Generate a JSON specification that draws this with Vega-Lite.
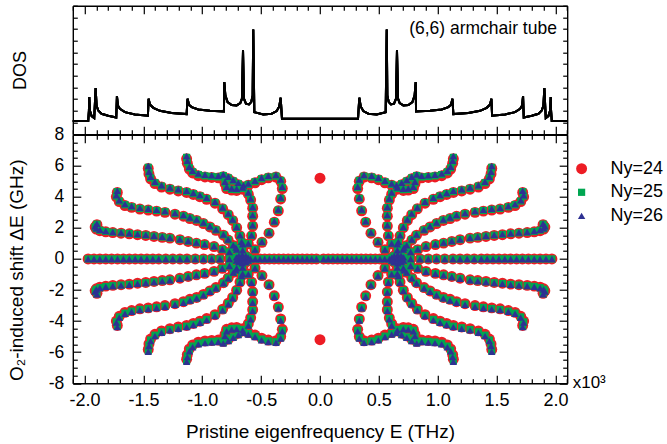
{"$schema":"https://vega.github.io/schema/vega-lite/v6.json","autosize":{"type":"none"},"padding":{"left":72.8,"top":5.7,"right":594.2,"bottom":438.3},"spacing":0,"bounds":"flush","config":{"view":{"stroke":null},"font":"Liberation Sans","axis":{"grid":false,"domainColor":"#000","domainWidth":1.4,"tickColor":"#000","tickWidth":1.2,"labelColor":"#000","titleColor":"#000","labelFontSize":18,"titleFontSize":18,"titleFontWeight":"normal","labelFont":"Liberation Sans","titleFont":"Liberation Sans"}},
"datasets":{"dos":[{"x":-2.1,"y":1.12},{"x":-1.969,"y":1.12},{"x":-1.963,"y":2.03},{"x":-1.96,"y":3.18},{"x":-1.955,"y":2.03},{"x":-1.94,"y":1.55},{"x":-1.918,"y":1.38},{"x":-1.906,"y":3.95},{"x":-1.898,"y":2.46},{"x":-1.884,"y":2.03},{"x":-1.856,"y":1.75},{"x":-1.799,"y":1.58},{"x":-1.731,"y":1.43},{"x":-1.725,"y":3.27},{"x":-1.717,"y":2.46},{"x":-1.7,"y":2.18},{"x":-1.657,"y":1.89},{"x":-1.572,"y":1.69},{"x":-1.462,"y":1.58},{"x":-1.456,"y":3.04},{"x":-1.445,"y":2.55},{"x":-1.416,"y":2.26},{"x":-1.36,"y":2.0},{"x":-1.26,"y":1.81},{"x":-1.133,"y":1.72},{"x":-1.125,"y":3.04},{"x":-1.113,"y":2.52},{"x":-1.09,"y":2.32},{"x":-1.034,"y":2.12},{"x":-0.935,"y":2.0},{"x":-0.816,"y":1.95},{"x":-0.813,"y":4.47},{"x":-0.804,"y":3.32},{"x":-0.785,"y":2.75},{"x":-0.751,"y":2.49},{"x":-0.708,"y":2.46},{"x":-0.677,"y":2.66},{"x":-0.663,"y":3.04},{"x":-0.654,"y":7.19},{"x":-0.646,"y":3.04},{"x":-0.629,"y":2.61},{"x":-0.603,"y":2.55},{"x":-0.584,"y":2.75},{"x":-0.572,"y":3.32},{"x":-0.567,"y":8.97},{"x":-0.558,"y":1.89},{"x":-0.482,"y":1.69},{"x":-0.411,"y":1.75},{"x":-0.368,"y":1.98},{"x":-0.346,"y":2.38},{"x":-0.334,"y":3.12},{"x":-0.323,"y":1.32},{"x":0.323,"y":1.32},{"x":0.334,"y":3.12},{"x":0.346,"y":2.38},{"x":0.368,"y":1.98},{"x":0.411,"y":1.75},{"x":0.482,"y":1.69},{"x":0.558,"y":1.89},{"x":0.567,"y":8.97},{"x":0.572,"y":3.32},{"x":0.584,"y":2.75},{"x":0.603,"y":2.55},{"x":0.629,"y":2.61},{"x":0.646,"y":3.04},{"x":0.654,"y":7.19},{"x":0.663,"y":3.04},{"x":0.677,"y":2.66},{"x":0.708,"y":2.46},{"x":0.751,"y":2.49},{"x":0.785,"y":2.75},{"x":0.804,"y":3.32},{"x":0.813,"y":4.47},{"x":0.816,"y":1.95},{"x":0.935,"y":2.0},{"x":1.034,"y":2.12},{"x":1.09,"y":2.32},{"x":1.113,"y":2.52},{"x":1.125,"y":3.04},{"x":1.133,"y":1.72},{"x":1.26,"y":1.81},{"x":1.36,"y":2.0},{"x":1.416,"y":2.26},{"x":1.445,"y":2.55},{"x":1.456,"y":3.04},{"x":1.462,"y":1.58},{"x":1.572,"y":1.69},{"x":1.657,"y":1.89},{"x":1.7,"y":2.18},{"x":1.717,"y":2.46},{"x":1.725,"y":3.27},{"x":1.731,"y":1.43},{"x":1.799,"y":1.58},{"x":1.856,"y":1.75},{"x":1.884,"y":2.03},{"x":1.898,"y":2.46},{"x":1.906,"y":3.95},{"x":1.918,"y":1.38},{"x":1.94,"y":1.55},{"x":1.955,"y":2.03},{"x":1.96,"y":3.18},{"x":1.963,"y":2.03},{"x":1.969,"y":1.12},{"x":2.1,"y":1.12}],
"pts":[
{"x":-1.97,"a":0,"b":0,"c":0},{"x":-1.92,"a":0,"b":0,"c":0},{"x":-1.87,"a":0,"b":0,"c":0},{"x":-1.82,"a":0,"b":0,"c":0},{"x":-1.77,"a":0,"b":0,"c":0},{"x":-1.72,"a":0,"b":0,"c":0},{"x":-1.67,"a":0,"b":0,"c":0},{"x":-1.62,"a":0,"b":0,"c":0},{"x":-1.57,"a":0,"b":0,"c":0},{"x":-1.52,"a":0,"b":0,"c":0},{"x":-1.47,"a":0,"b":0,"c":0},{"x":-1.42,"a":0,"b":0,"c":0},{"x":-1.37,"a":0,"b":0,"c":0},{"x":-1.31,"a":0,"b":0,"c":0},{"x":-1.25,"a":0,"b":0,"c":0},{"x":-1.19,"a":0,"b":0,"c":0},{"x":-1.13,"a":0,"b":0,"c":0},{"x":-1.06,"a":0,"b":0,"c":0},{"x":-0.99,"a":0,"b":0,"c":0},{"x":-0.92,"a":0,"b":0,"c":0},{"x":-0.85,"a":0,"b":0,"c":0},{"x":-0.77,"a":0,"b":0,"c":0},{"x":-0.69,"a":0,"b":0,"c":0},{"x":-0.66,"a":0,"b":0,"c":0},{"x":-0.63,"a":0,"b":0,"c":0},{"x":-0.59,"a":0,"b":0,"c":0},{"x":-0.55,"a":0,"b":0,"c":0},{"x":-0.51,"a":0,"b":0,"c":0},{"x":-0.47,"a":0,"b":0,"c":0},{"x":-0.43,"a":0,"b":0,"c":0},{"x":-0.39,"a":0,"b":0,"c":0},{"x":-0.35,"a":0,"b":0,"c":0},{"x":-0.31,"a":0,"b":0,"c":0},{"x":-0.27,"a":0,"b":0,"c":0},{"x":-0.23,"a":0,"b":0,"c":0},{"x":-0.19,"a":0,"b":0,"c":0},{"x":-0.15,"a":0,"b":0,"c":0},{"x":-0.11,"a":0,"b":0,"c":0},{"x":-0.07,"a":0,"b":0,"c":0},{"x":-0.03,"a":0,"b":0,"c":0},
{"x":0.03,"a":0,"b":0,"c":0},{"x":0.07,"a":0,"b":0,"c":0},{"x":0.11,"a":0,"b":0,"c":0},{"x":0.15,"a":0,"b":0,"c":0},{"x":0.19,"a":0,"b":0,"c":0},{"x":0.23,"a":0,"b":0,"c":0},{"x":0.27,"a":0,"b":0,"c":0},{"x":0.31,"a":0,"b":0,"c":0},{"x":0.35,"a":0,"b":0,"c":0},{"x":0.39,"a":0,"b":0,"c":0},{"x":0.43,"a":0,"b":0,"c":0},{"x":0.47,"a":0,"b":0,"c":0},{"x":0.51,"a":0,"b":0,"c":0},{"x":0.55,"a":0,"b":0,"c":0},{"x":0.59,"a":0,"b":0,"c":0},{"x":0.63,"a":0,"b":0,"c":0},{"x":0.66,"a":0,"b":0,"c":0},{"x":0.69,"a":0,"b":0,"c":0},{"x":0.77,"a":0,"b":0,"c":0},{"x":0.85,"a":0,"b":0,"c":0},{"x":0.92,"a":0,"b":0,"c":0},{"x":0.99,"a":0,"b":0,"c":0},{"x":1.06,"a":0,"b":0,"c":0},{"x":1.13,"a":0,"b":0,"c":0},{"x":1.19,"a":0,"b":0,"c":0},{"x":1.25,"a":0,"b":0,"c":0},{"x":1.31,"a":0,"b":0,"c":0},{"x":1.37,"a":0,"b":0,"c":0},{"x":1.42,"a":0,"b":0,"c":0},{"x":1.47,"a":0,"b":0,"c":0},{"x":1.52,"a":0,"b":0,"c":0},{"x":1.57,"a":0,"b":0,"c":0},{"x":1.62,"a":0,"b":0,"c":0},{"x":1.67,"a":0,"b":0,"c":0},{"x":1.72,"a":0,"b":0,"c":0},{"x":1.77,"a":0,"b":0,"c":0},{"x":1.82,"a":0,"b":0,"c":0},{"x":1.87,"a":0,"b":0,"c":0},{"x":1.92,"a":0,"b":0,"c":0},{"x":1.97,"a":0,"b":0,"c":0},
{"x":-1.895,"a":2.21,"b":2.24,"c":2.27},{"x":-1.91,"a":2.05,"b":2.07,"c":2.1},{"x":-1.9,"a":1.92,"b":1.95,"c":1.97},{"x":-1.87,"a":1.82,"b":1.85,"c":1.87},{"x":-1.82,"a":1.75,"b":1.77,"c":1.79},{"x":-1.76,"a":1.7,"b":1.72,"c":1.74},{"x":-1.69,"a":1.66,"b":1.68,"c":1.7},{"x":-1.62,"a":1.62,"b":1.64,"c":1.66},{"x":-1.55,"a":1.56,"b":1.58,"c":1.6},{"x":-1.48,"a":1.51,"b":1.53,"c":1.55},{"x":-1.41,"a":1.45,"b":1.47,"c":1.49},{"x":-1.34,"a":1.39,"b":1.41,"c":1.43},{"x":-1.275,"a":1.34,"b":1.35,"c":1.37},{"x":-1.19,"a":1.24,"b":1.25,"c":1.27},{"x":-1.12,"a":1.13,"b":1.14,"c":1.16},{"x":-1.05,"a":1.02,"b":1.04,"c":1.05},{"x":-0.98,"a":0.93,"b":0.94,"c":0.95},{"x":-0.9,"a":0.8,"b":0.81,"c":0.82},{"x":-0.83,"a":0.6,"b":0.61,"c":0.62},{"x":-0.77,"a":0.44,"b":0.45,"c":0.45},
{"x":-1.722,"a":4.28,"b":4.33,"c":4.39},{"x":-1.73,"a":4.0,"b":4.05,"c":4.1},{"x":-1.705,"a":3.69,"b":3.73,"c":3.78},{"x":-1.657,"a":3.44,"b":3.49,"c":3.53},{"x":-1.6,"a":3.32,"b":3.36,"c":3.4},{"x":-1.53,"a":3.21,"b":3.25,"c":3.29},{"x":-1.459,"a":3.15,"b":3.19,"c":3.23},{"x":-1.388,"a":3.08,"b":3.12,"c":3.16},{"x":-1.317,"a":3.0,"b":3.04,"c":3.08},{"x":-1.232,"a":2.88,"b":2.91,"c":2.95},{"x":-1.16,"a":2.75,"b":2.78,"c":2.82},{"x":-1.105,"a":2.6,"b":2.64,"c":2.67},{"x":-1.048,"a":2.48,"b":2.51,"c":2.54},{"x":-0.99,"a":2.28,"b":2.31,"c":2.34},{"x":-0.935,"a":2.06,"b":2.08,"c":2.11},{"x":-0.884,"a":1.84,"b":1.87,"c":1.89},{"x":-0.82,"a":1.53,"b":1.55,"c":1.57},{"x":-0.78,"a":1.22,"b":1.23,"c":1.25},{"x":-0.737,"a":0.86,"b":0.87,"c":0.88},{"x":-0.708,"a":0.59,"b":0.6,"c":0.6},
{"x":-1.459,"a":5.83,"b":5.9,"c":5.98},{"x":-1.453,"a":5.47,"b":5.54,"c":5.61},{"x":-1.439,"a":5.16,"b":5.22,"c":5.29},{"x":-1.402,"a":4.85,"b":4.91,"c":4.97},{"x":-1.346,"a":4.63,"b":4.69,"c":4.75},{"x":-1.275,"a":4.49,"b":4.54,"c":4.6},{"x":-1.204,"a":4.38,"b":4.43,"c":4.49},{"x":-1.133,"a":4.28,"b":4.33,"c":4.39},{"x":-1.076,"a":4.15,"b":4.2,"c":4.25},{"x":-1.02,"a":4.01,"b":4.06,"c":4.11},{"x":-0.963,"a":3.84,"b":3.89,"c":3.94},{"x":-0.892,"a":3.59,"b":3.63,"c":3.68},{"x":-0.827,"a":3.23,"b":3.27,"c":3.31},{"x":-0.779,"a":2.85,"b":2.88,"c":2.92},{"x":-0.742,"a":2.48,"b":2.51,"c":2.54},{"x":-0.708,"a":2.01,"b":2.03,"c":2.06},{"x":-0.68,"a":1.49,"b":1.51,"c":1.53},{"x":-0.666,"a":1.07,"b":1.09,"c":1.1},{"x":-0.657,"a":0.55,"b":0.55,"c":0.56},
{"x":-1.133,"a":6.45,"b":6.54,"c":6.62},{"x":-1.127,"a":6.16,"b":6.24,"c":6.32},{"x":-1.11,"a":5.79,"b":5.87,"c":5.94},{"x":-1.082,"a":5.54,"b":5.61,"c":5.68},{"x":-1.034,"a":5.36,"b":5.43,"c":5.5},{"x":-0.977,"a":5.28,"b":5.35,"c":5.42},{"x":-0.92,"a":5.25,"b":5.31,"c":5.38},{"x":-0.864,"a":5.22,"b":5.28,"c":5.35},{"x":-0.822,"a":5.3,"b":5.37,"c":5.44},{"x":-0.779,"a":5.16,"b":5.22,"c":5.29},{"x":-0.737,"a":4.95,"b":5.02,"c":5.08},{"x":-0.694,"a":4.78,"b":4.84,"c":4.9},{"x":-0.65,"a":4.63,"b":4.69,"c":4.75},{"x":-0.807,"a":4.85,"b":4.91,"c":4.97},{"x":-0.793,"a":4.53,"b":4.59,"c":4.65},{"x":-0.75,"a":4.43,"b":4.48,"c":4.54},{"x":-0.708,"a":4.41,"b":4.46,"c":4.52},{"x":-0.657,"a":4.49,"b":4.54,"c":4.6},
{"x":-0.609,"a":4.74,"b":4.8,"c":4.86},{"x":-0.552,"a":4.9,"b":4.97,"c":5.03},{"x":-0.496,"a":5.1,"b":5.16,"c":5.23},{"x":-0.439,"a":5.22,"b":5.28,"c":5.35},{"x":-0.374,"a":5.27,"b":5.33,"c":5.4},{"x":-0.334,"a":5.0,"b":5.06,"c":5.12},{"x":-0.32,"a":4.53,"b":4.59,"c":4.65},{"x":-0.334,"a":3.86,"b":3.91,"c":3.96},{"x":-0.354,"a":3.1,"b":3.14,"c":3.18},{"x":-0.388,"a":2.37,"b":2.4,"c":2.43},{"x":-0.433,"a":1.66,"b":1.68,"c":1.7},{"x":-0.493,"a":1.07,"b":1.09,"c":1.1},{"x":-0.552,"a":0.59,"b":0.6,"c":0.6},
{"x":-0.609,"a":4.17,"b":4.23,"c":4.28},{"x":-0.589,"a":3.79,"b":3.84,"c":3.89},{"x":-0.572,"a":3.27,"b":3.31,"c":3.35},{"x":-0.572,"a":2.75,"b":2.78,"c":2.82},{"x":-0.572,"a":2.12,"b":2.14,"c":2.17},{"x":-0.581,"a":1.49,"b":1.51,"c":1.53},{"x":-0.609,"a":0.97,"b":0.98,"c":0.99},{"x":-0.657,"a":0.93,"b":0.94,"c":0.95},{"x":-0.714,"a":0.71,"b":0.72,"c":0.73},{"x":-0.66,"a":0.28,"b":0.28,"c":0.28},{"x":-0.69,"a":0.2,"b":0.2,"c":0.2},{"x":-0.63,"a":0.2,"b":0.2,"c":0.2},{"x":-0.71,"a":0.1,"b":0.1,"c":0.1},{"x":-0.61,"a":0.1,"b":0.1,"c":0.1},
{"x":1.895,"a":2.21,"b":2.24,"c":2.27},{"x":1.91,"a":2.05,"b":2.07,"c":2.1},{"x":1.9,"a":1.92,"b":1.95,"c":1.97},{"x":1.87,"a":1.82,"b":1.85,"c":1.87},{"x":1.82,"a":1.75,"b":1.77,"c":1.79},{"x":1.76,"a":1.7,"b":1.72,"c":1.74},{"x":1.69,"a":1.66,"b":1.68,"c":1.7},{"x":1.62,"a":1.62,"b":1.64,"c":1.66},{"x":1.55,"a":1.56,"b":1.58,"c":1.6},{"x":1.48,"a":1.51,"b":1.53,"c":1.55},{"x":1.41,"a":1.45,"b":1.47,"c":1.49},{"x":1.34,"a":1.39,"b":1.41,"c":1.43},{"x":1.275,"a":1.34,"b":1.35,"c":1.37},{"x":1.19,"a":1.24,"b":1.25,"c":1.27},{"x":1.12,"a":1.13,"b":1.14,"c":1.16},{"x":1.05,"a":1.02,"b":1.04,"c":1.05},{"x":0.98,"a":0.93,"b":0.94,"c":0.95},{"x":0.9,"a":0.8,"b":0.81,"c":0.82},{"x":0.83,"a":0.6,"b":0.61,"c":0.62},{"x":0.77,"a":0.44,"b":0.45,"c":0.45},
{"x":1.722,"a":4.28,"b":4.33,"c":4.39},{"x":1.73,"a":4.0,"b":4.05,"c":4.1},{"x":1.705,"a":3.69,"b":3.73,"c":3.78},{"x":1.657,"a":3.44,"b":3.49,"c":3.53},{"x":1.6,"a":3.32,"b":3.36,"c":3.4},{"x":1.53,"a":3.21,"b":3.25,"c":3.29},{"x":1.459,"a":3.15,"b":3.19,"c":3.23},{"x":1.388,"a":3.08,"b":3.12,"c":3.16},{"x":1.317,"a":3.0,"b":3.04,"c":3.08},{"x":1.232,"a":2.88,"b":2.91,"c":2.95},{"x":1.16,"a":2.75,"b":2.78,"c":2.82},{"x":1.105,"a":2.6,"b":2.64,"c":2.67},{"x":1.048,"a":2.48,"b":2.51,"c":2.54},{"x":0.99,"a":2.28,"b":2.31,"c":2.34},{"x":0.935,"a":2.06,"b":2.08,"c":2.11},{"x":0.884,"a":1.84,"b":1.87,"c":1.89},{"x":0.82,"a":1.53,"b":1.55,"c":1.57},{"x":0.78,"a":1.22,"b":1.23,"c":1.25},{"x":0.737,"a":0.86,"b":0.87,"c":0.88},{"x":0.708,"a":0.59,"b":0.6,"c":0.6},
{"x":1.459,"a":5.83,"b":5.9,"c":5.98},{"x":1.453,"a":5.47,"b":5.54,"c":5.61},{"x":1.439,"a":5.16,"b":5.22,"c":5.29},{"x":1.402,"a":4.85,"b":4.91,"c":4.97},{"x":1.346,"a":4.63,"b":4.69,"c":4.75},{"x":1.275,"a":4.49,"b":4.54,"c":4.6},{"x":1.204,"a":4.38,"b":4.43,"c":4.49},{"x":1.133,"a":4.28,"b":4.33,"c":4.39},{"x":1.076,"a":4.15,"b":4.2,"c":4.25},{"x":1.02,"a":4.01,"b":4.06,"c":4.11},{"x":0.963,"a":3.84,"b":3.89,"c":3.94},{"x":0.892,"a":3.59,"b":3.63,"c":3.68},{"x":0.827,"a":3.23,"b":3.27,"c":3.31},{"x":0.779,"a":2.85,"b":2.88,"c":2.92},{"x":0.742,"a":2.48,"b":2.51,"c":2.54},{"x":0.708,"a":2.01,"b":2.03,"c":2.06},{"x":0.68,"a":1.49,"b":1.51,"c":1.53},{"x":0.666,"a":1.07,"b":1.09,"c":1.1},{"x":0.657,"a":0.55,"b":0.55,"c":0.56},
{"x":1.133,"a":6.45,"b":6.54,"c":6.62},{"x":1.127,"a":6.16,"b":6.24,"c":6.32},{"x":1.11,"a":5.79,"b":5.87,"c":5.94},{"x":1.082,"a":5.54,"b":5.61,"c":5.68},{"x":1.034,"a":5.36,"b":5.43,"c":5.5},{"x":0.977,"a":5.28,"b":5.35,"c":5.42},{"x":0.92,"a":5.25,"b":5.31,"c":5.38},{"x":0.864,"a":5.22,"b":5.28,"c":5.35},{"x":0.822,"a":5.3,"b":5.37,"c":5.44},{"x":0.779,"a":5.16,"b":5.22,"c":5.29},{"x":0.737,"a":4.95,"b":5.02,"c":5.08},{"x":0.694,"a":4.78,"b":4.84,"c":4.9},{"x":0.65,"a":4.63,"b":4.69,"c":4.75},{"x":0.807,"a":4.85,"b":4.91,"c":4.97},{"x":0.793,"a":4.53,"b":4.59,"c":4.65},{"x":0.75,"a":4.43,"b":4.48,"c":4.54},{"x":0.708,"a":4.41,"b":4.46,"c":4.52},{"x":0.657,"a":4.49,"b":4.54,"c":4.6},
{"x":0.609,"a":4.74,"b":4.8,"c":4.86},{"x":0.552,"a":4.9,"b":4.97,"c":5.03},{"x":0.496,"a":5.1,"b":5.16,"c":5.23},{"x":0.439,"a":5.22,"b":5.28,"c":5.35},{"x":0.374,"a":5.27,"b":5.33,"c":5.4},{"x":0.334,"a":5.0,"b":5.06,"c":5.12},{"x":0.32,"a":4.53,"b":4.59,"c":4.65},{"x":0.334,"a":3.86,"b":3.91,"c":3.96},{"x":0.354,"a":3.1,"b":3.14,"c":3.18},{"x":0.388,"a":2.37,"b":2.4,"c":2.43},{"x":0.433,"a":1.66,"b":1.68,"c":1.7},{"x":0.493,"a":1.07,"b":1.09,"c":1.1},{"x":0.552,"a":0.59,"b":0.6,"c":0.6},
{"x":0.609,"a":4.17,"b":4.23,"c":4.28},{"x":0.589,"a":3.79,"b":3.84,"c":3.89},{"x":0.572,"a":3.27,"b":3.31,"c":3.35},{"x":0.572,"a":2.75,"b":2.78,"c":2.82},{"x":0.572,"a":2.12,"b":2.14,"c":2.17},{"x":0.581,"a":1.49,"b":1.51,"c":1.53},{"x":0.609,"a":0.97,"b":0.98,"c":0.99},{"x":0.657,"a":0.93,"b":0.94,"c":0.95},{"x":0.714,"a":0.71,"b":0.72,"c":0.73},{"x":0.66,"a":0.28,"b":0.28,"c":0.28},{"x":0.69,"a":0.2,"b":0.2,"c":0.2},{"x":0.63,"a":0.2,"b":0.2,"c":0.2},{"x":0.71,"a":0.1,"b":0.1,"c":0.1},{"x":0.61,"a":0.1,"b":0.1,"c":0.1},
{"x":-1.895,"a":-2.21,"b":-2.24,"c":-2.27},{"x":-1.91,"a":-2.05,"b":-2.07,"c":-2.1},{"x":-1.9,"a":-1.92,"b":-1.95,"c":-1.97},{"x":-1.87,"a":-1.82,"b":-1.85,"c":-1.87},{"x":-1.82,"a":-1.75,"b":-1.77,"c":-1.79},{"x":-1.76,"a":-1.7,"b":-1.72,"c":-1.74},{"x":-1.69,"a":-1.66,"b":-1.68,"c":-1.7},{"x":-1.62,"a":-1.62,"b":-1.64,"c":-1.66},{"x":-1.55,"a":-1.56,"b":-1.58,"c":-1.6},{"x":-1.48,"a":-1.51,"b":-1.53,"c":-1.55},{"x":-1.41,"a":-1.45,"b":-1.47,"c":-1.49},{"x":-1.34,"a":-1.39,"b":-1.41,"c":-1.43},{"x":-1.275,"a":-1.34,"b":-1.35,"c":-1.37},{"x":-1.19,"a":-1.24,"b":-1.25,"c":-1.27},{"x":-1.12,"a":-1.13,"b":-1.14,"c":-1.16},{"x":-1.05,"a":-1.02,"b":-1.04,"c":-1.05},{"x":-0.98,"a":-0.93,"b":-0.94,"c":-0.95},{"x":-0.9,"a":-0.8,"b":-0.81,"c":-0.82},{"x":-0.83,"a":-0.6,"b":-0.61,"c":-0.62},{"x":-0.77,"a":-0.44,"b":-0.45,"c":-0.45},
{"x":-1.722,"a":-4.28,"b":-4.33,"c":-4.39},{"x":-1.73,"a":-4.0,"b":-4.05,"c":-4.1},{"x":-1.705,"a":-3.69,"b":-3.73,"c":-3.78},{"x":-1.657,"a":-3.44,"b":-3.49,"c":-3.53},{"x":-1.6,"a":-3.32,"b":-3.36,"c":-3.4},{"x":-1.53,"a":-3.21,"b":-3.25,"c":-3.29},{"x":-1.459,"a":-3.15,"b":-3.19,"c":-3.23},{"x":-1.388,"a":-3.08,"b":-3.12,"c":-3.16},{"x":-1.317,"a":-3.0,"b":-3.04,"c":-3.08},{"x":-1.232,"a":-2.88,"b":-2.91,"c":-2.95},{"x":-1.16,"a":-2.75,"b":-2.78,"c":-2.82},{"x":-1.105,"a":-2.6,"b":-2.64,"c":-2.67},{"x":-1.048,"a":-2.48,"b":-2.51,"c":-2.54},{"x":-0.99,"a":-2.28,"b":-2.31,"c":-2.34},{"x":-0.935,"a":-2.06,"b":-2.08,"c":-2.11},{"x":-0.884,"a":-1.84,"b":-1.87,"c":-1.89},{"x":-0.82,"a":-1.53,"b":-1.55,"c":-1.57},{"x":-0.78,"a":-1.22,"b":-1.23,"c":-1.25},{"x":-0.737,"a":-0.86,"b":-0.87,"c":-0.88},{"x":-0.708,"a":-0.59,"b":-0.6,"c":-0.6},
{"x":-1.459,"a":-5.83,"b":-5.9,"c":-5.98},{"x":-1.453,"a":-5.47,"b":-5.54,"c":-5.61},{"x":-1.439,"a":-5.16,"b":-5.22,"c":-5.29},{"x":-1.402,"a":-4.85,"b":-4.91,"c":-4.97},{"x":-1.346,"a":-4.63,"b":-4.69,"c":-4.75},{"x":-1.275,"a":-4.49,"b":-4.54,"c":-4.6},{"x":-1.204,"a":-4.38,"b":-4.43,"c":-4.49},{"x":-1.133,"a":-4.28,"b":-4.33,"c":-4.39},{"x":-1.076,"a":-4.15,"b":-4.2,"c":-4.25},{"x":-1.02,"a":-4.01,"b":-4.06,"c":-4.11},{"x":-0.963,"a":-3.84,"b":-3.89,"c":-3.94},{"x":-0.892,"a":-3.59,"b":-3.63,"c":-3.68},{"x":-0.827,"a":-3.23,"b":-3.27,"c":-3.31},{"x":-0.779,"a":-2.85,"b":-2.88,"c":-2.92},{"x":-0.742,"a":-2.48,"b":-2.51,"c":-2.54},{"x":-0.708,"a":-2.01,"b":-2.03,"c":-2.06},{"x":-0.68,"a":-1.49,"b":-1.51,"c":-1.53},{"x":-0.666,"a":-1.07,"b":-1.09,"c":-1.1},{"x":-0.657,"a":-0.55,"b":-0.55,"c":-0.56},
{"x":-1.133,"a":-6.45,"b":-6.54,"c":-6.62},{"x":-1.127,"a":-6.16,"b":-6.24,"c":-6.32},{"x":-1.11,"a":-5.79,"b":-5.87,"c":-5.94},{"x":-1.082,"a":-5.54,"b":-5.61,"c":-5.68},{"x":-1.034,"a":-5.36,"b":-5.43,"c":-5.5},{"x":-0.977,"a":-5.28,"b":-5.35,"c":-5.42},{"x":-0.92,"a":-5.25,"b":-5.31,"c":-5.38},{"x":-0.864,"a":-5.22,"b":-5.28,"c":-5.35},{"x":-0.822,"a":-5.3,"b":-5.37,"c":-5.44},{"x":-0.779,"a":-5.16,"b":-5.22,"c":-5.29},{"x":-0.737,"a":-4.95,"b":-5.02,"c":-5.08},{"x":-0.694,"a":-4.78,"b":-4.84,"c":-4.9},{"x":-0.65,"a":-4.63,"b":-4.69,"c":-4.75},{"x":-0.807,"a":-4.85,"b":-4.91,"c":-4.97},{"x":-0.793,"a":-4.53,"b":-4.59,"c":-4.65},{"x":-0.75,"a":-4.43,"b":-4.48,"c":-4.54},{"x":-0.708,"a":-4.41,"b":-4.46,"c":-4.52},{"x":-0.657,"a":-4.49,"b":-4.54,"c":-4.6},
{"x":-0.609,"a":-4.74,"b":-4.8,"c":-4.86},{"x":-0.552,"a":-4.9,"b":-4.97,"c":-5.03},{"x":-0.496,"a":-5.1,"b":-5.16,"c":-5.23},{"x":-0.439,"a":-5.22,"b":-5.28,"c":-5.35},{"x":-0.374,"a":-5.27,"b":-5.33,"c":-5.4},{"x":-0.334,"a":-5.0,"b":-5.06,"c":-5.12},{"x":-0.32,"a":-4.53,"b":-4.59,"c":-4.65},{"x":-0.334,"a":-3.86,"b":-3.91,"c":-3.96},{"x":-0.354,"a":-3.1,"b":-3.14,"c":-3.18},{"x":-0.388,"a":-2.37,"b":-2.4,"c":-2.43},{"x":-0.433,"a":-1.66,"b":-1.68,"c":-1.7},{"x":-0.493,"a":-1.07,"b":-1.09,"c":-1.1},{"x":-0.552,"a":-0.59,"b":-0.6,"c":-0.6},
{"x":-0.609,"a":-4.17,"b":-4.23,"c":-4.28},{"x":-0.589,"a":-3.79,"b":-3.84,"c":-3.89},{"x":-0.572,"a":-3.27,"b":-3.31,"c":-3.35},{"x":-0.572,"a":-2.75,"b":-2.78,"c":-2.82},{"x":-0.572,"a":-2.12,"b":-2.14,"c":-2.17},{"x":-0.581,"a":-1.49,"b":-1.51,"c":-1.53},{"x":-0.609,"a":-0.97,"b":-0.98,"c":-0.99},{"x":-0.657,"a":-0.93,"b":-0.94,"c":-0.95},{"x":-0.714,"a":-0.71,"b":-0.72,"c":-0.73},{"x":-0.66,"a":-0.28,"b":-0.28,"c":-0.28},{"x":-0.69,"a":-0.2,"b":-0.2,"c":-0.2},{"x":-0.63,"a":-0.2,"b":-0.2,"c":-0.2},{"x":-0.71,"a":-0.1,"b":-0.1,"c":-0.1},{"x":-0.61,"a":-0.1,"b":-0.1,"c":-0.1},
{"x":1.895,"a":-2.21,"b":-2.24,"c":-2.27},{"x":1.91,"a":-2.05,"b":-2.07,"c":-2.1},{"x":1.9,"a":-1.92,"b":-1.95,"c":-1.97},{"x":1.87,"a":-1.82,"b":-1.85,"c":-1.87},{"x":1.82,"a":-1.75,"b":-1.77,"c":-1.79},{"x":1.76,"a":-1.7,"b":-1.72,"c":-1.74},{"x":1.69,"a":-1.66,"b":-1.68,"c":-1.7},{"x":1.62,"a":-1.62,"b":-1.64,"c":-1.66},{"x":1.55,"a":-1.56,"b":-1.58,"c":-1.6},{"x":1.48,"a":-1.51,"b":-1.53,"c":-1.55},{"x":1.41,"a":-1.45,"b":-1.47,"c":-1.49},{"x":1.34,"a":-1.39,"b":-1.41,"c":-1.43},{"x":1.275,"a":-1.34,"b":-1.35,"c":-1.37},{"x":1.19,"a":-1.24,"b":-1.25,"c":-1.27},{"x":1.12,"a":-1.13,"b":-1.14,"c":-1.16},{"x":1.05,"a":-1.02,"b":-1.04,"c":-1.05},{"x":0.98,"a":-0.93,"b":-0.94,"c":-0.95},{"x":0.9,"a":-0.8,"b":-0.81,"c":-0.82},{"x":0.83,"a":-0.6,"b":-0.61,"c":-0.62},{"x":0.77,"a":-0.44,"b":-0.45,"c":-0.45},
{"x":1.722,"a":-4.28,"b":-4.33,"c":-4.39},{"x":1.73,"a":-4.0,"b":-4.05,"c":-4.1},{"x":1.705,"a":-3.69,"b":-3.73,"c":-3.78},{"x":1.657,"a":-3.44,"b":-3.49,"c":-3.53},{"x":1.6,"a":-3.32,"b":-3.36,"c":-3.4},{"x":1.53,"a":-3.21,"b":-3.25,"c":-3.29},{"x":1.459,"a":-3.15,"b":-3.19,"c":-3.23},{"x":1.388,"a":-3.08,"b":-3.12,"c":-3.16},{"x":1.317,"a":-3.0,"b":-3.04,"c":-3.08},{"x":1.232,"a":-2.88,"b":-2.91,"c":-2.95},{"x":1.16,"a":-2.75,"b":-2.78,"c":-2.82},{"x":1.105,"a":-2.6,"b":-2.64,"c":-2.67},{"x":1.048,"a":-2.48,"b":-2.51,"c":-2.54},{"x":0.99,"a":-2.28,"b":-2.31,"c":-2.34},{"x":0.935,"a":-2.06,"b":-2.08,"c":-2.11},{"x":0.884,"a":-1.84,"b":-1.87,"c":-1.89},{"x":0.82,"a":-1.53,"b":-1.55,"c":-1.57},{"x":0.78,"a":-1.22,"b":-1.23,"c":-1.25},{"x":0.737,"a":-0.86,"b":-0.87,"c":-0.88},{"x":0.708,"a":-0.59,"b":-0.6,"c":-0.6},
{"x":1.459,"a":-5.83,"b":-5.9,"c":-5.98},{"x":1.453,"a":-5.47,"b":-5.54,"c":-5.61},{"x":1.439,"a":-5.16,"b":-5.22,"c":-5.29},{"x":1.402,"a":-4.85,"b":-4.91,"c":-4.97},{"x":1.346,"a":-4.63,"b":-4.69,"c":-4.75},{"x":1.275,"a":-4.49,"b":-4.54,"c":-4.6},{"x":1.204,"a":-4.38,"b":-4.43,"c":-4.49},{"x":1.133,"a":-4.28,"b":-4.33,"c":-4.39},{"x":1.076,"a":-4.15,"b":-4.2,"c":-4.25},{"x":1.02,"a":-4.01,"b":-4.06,"c":-4.11},{"x":0.963,"a":-3.84,"b":-3.89,"c":-3.94},{"x":0.892,"a":-3.59,"b":-3.63,"c":-3.68},{"x":0.827,"a":-3.23,"b":-3.27,"c":-3.31},{"x":0.779,"a":-2.85,"b":-2.88,"c":-2.92},{"x":0.742,"a":-2.48,"b":-2.51,"c":-2.54},{"x":0.708,"a":-2.01,"b":-2.03,"c":-2.06},{"x":0.68,"a":-1.49,"b":-1.51,"c":-1.53},{"x":0.666,"a":-1.07,"b":-1.09,"c":-1.1},{"x":0.657,"a":-0.55,"b":-0.55,"c":-0.56},
{"x":1.133,"a":-6.45,"b":-6.54,"c":-6.62},{"x":1.127,"a":-6.16,"b":-6.24,"c":-6.32},{"x":1.11,"a":-5.79,"b":-5.87,"c":-5.94},{"x":1.082,"a":-5.54,"b":-5.61,"c":-5.68},{"x":1.034,"a":-5.36,"b":-5.43,"c":-5.5},{"x":0.977,"a":-5.28,"b":-5.35,"c":-5.42},{"x":0.92,"a":-5.25,"b":-5.31,"c":-5.38},{"x":0.864,"a":-5.22,"b":-5.28,"c":-5.35},{"x":0.822,"a":-5.3,"b":-5.37,"c":-5.44},{"x":0.779,"a":-5.16,"b":-5.22,"c":-5.29},{"x":0.737,"a":-4.95,"b":-5.02,"c":-5.08},{"x":0.694,"a":-4.78,"b":-4.84,"c":-4.9},{"x":0.65,"a":-4.63,"b":-4.69,"c":-4.75},{"x":0.807,"a":-4.85,"b":-4.91,"c":-4.97},{"x":0.793,"a":-4.53,"b":-4.59,"c":-4.65},{"x":0.75,"a":-4.43,"b":-4.48,"c":-4.54},{"x":0.708,"a":-4.41,"b":-4.46,"c":-4.52},{"x":0.657,"a":-4.49,"b":-4.54,"c":-4.6},
{"x":0.609,"a":-4.74,"b":-4.8,"c":-4.86},{"x":0.552,"a":-4.9,"b":-4.97,"c":-5.03},{"x":0.496,"a":-5.1,"b":-5.16,"c":-5.23},{"x":0.439,"a":-5.22,"b":-5.28,"c":-5.35},{"x":0.374,"a":-5.27,"b":-5.33,"c":-5.4},{"x":0.334,"a":-5.0,"b":-5.06,"c":-5.12},{"x":0.32,"a":-4.53,"b":-4.59,"c":-4.65},{"x":0.334,"a":-3.86,"b":-3.91,"c":-3.96},{"x":0.354,"a":-3.1,"b":-3.14,"c":-3.18},{"x":0.388,"a":-2.37,"b":-2.4,"c":-2.43},{"x":0.433,"a":-1.66,"b":-1.68,"c":-1.7},{"x":0.493,"a":-1.07,"b":-1.09,"c":-1.1},{"x":0.552,"a":-0.59,"b":-0.6,"c":-0.6},
{"x":0.609,"a":-4.17,"b":-4.23,"c":-4.28},{"x":0.589,"a":-3.79,"b":-3.84,"c":-3.89},{"x":0.572,"a":-3.27,"b":-3.31,"c":-3.35},{"x":0.572,"a":-2.75,"b":-2.78,"c":-2.82},{"x":0.572,"a":-2.12,"b":-2.14,"c":-2.17},{"x":0.581,"a":-1.49,"b":-1.51,"c":-1.53},{"x":0.609,"a":-0.97,"b":-0.98,"c":-0.99},{"x":0.657,"a":-0.93,"b":-0.94,"c":-0.95},{"x":0.714,"a":-0.71,"b":-0.72,"c":-0.73},{"x":0.66,"a":-0.28,"b":-0.28,"c":-0.28},{"x":0.69,"a":-0.2,"b":-0.2,"c":-0.2},{"x":0.63,"a":-0.2,"b":-0.2,"c":-0.2},{"x":0.71,"a":-0.1,"b":-0.1,"c":-0.1},{"x":0.61,"a":-0.1,"b":-0.1,"c":-0.1},
{"x":0,"d":5.2},{"x":0,"d":-5.2}]},
"vconcat":[
{"width":494.4,"height":128.5,"data":{"name":"dos"},"resolve":{"axis":{"x":"independent","y":"independent"}},"layer":[
{"mark":{"type":"line","color":"#000","strokeWidth":2},"encoding":{"x":{"field":"x","type":"quantitative","scale":{"domain":[-2.1,2.1],"nice":false,"zero":false},"axis":{"orient":"bottom","values":[-2,-1.5,-1,-0.5,0,0.5,1,1.5,2],"labels":false,"tickSize":-8,"title":null}},"y":{"field":"y","type":"quantitative","scale":{"domain":[0,11],"nice":false,"zero":false},"axis":{"orient":"left","values":[0,1,2,3,4,5,6,7,8,9,10,11],"labels":false,"tickSize":-4.5,"title":"DOS","titleFontSize":18,"titlePadding":43}}}},
{"mark":{"type":"line","color":"#000","strokeWidth":2},"encoding":{"x":{"field":"x","type":"quantitative","scale":{"domain":[-2.1,2.1],"nice":false,"zero":false},"axis":{"orient":"top","values":[-2,-1.5,-1,-0.5,0,0.5,1,1.5,2],"labels":false,"tickSize":-8,"title":null}},"y":{"field":"y","type":"quantitative","scale":{"domain":[0,11],"nice":false,"zero":false},"axis":{"orient":"right","values":[0,1,2,3,4,5,6,7,8,9,10,11],"labels":false,"tickSize":-4.5,"title":null}}}},
{"mark":{"type":"line","color":"#000","strokeWidth":2},"encoding":{"x":{"field":"x","type":"quantitative","scale":{"domain":[-2.1,2.1],"nice":false,"zero":false},"axis":{"orient":"bottom","domain":false,"values":[-2.1,-1.9,-1.8,-1.7,-1.6,-1.4,-1.3,-1.2,-1.1,-0.9,-0.8,-0.7,-0.6,-0.4,-0.3,-0.2,-0.1,0.1,0.2,0.3,0.4,0.6,0.7,0.8,0.9,1.1,1.2,1.3,1.4,1.6,1.7,1.8,1.9,2.1],"labels":false,"tickSize":-4.5,"title":null}},"y":{"field":"y","type":"quantitative","scale":{"domain":[0,11],"nice":false,"zero":false},"axis":null}}},
{"mark":{"type":"line","color":"#000","strokeWidth":2},"encoding":{"x":{"field":"x","type":"quantitative","scale":{"domain":[-2.1,2.1],"nice":false,"zero":false},"axis":{"orient":"top","domain":false,"values":[-2.1,-1.9,-1.8,-1.7,-1.6,-1.4,-1.3,-1.2,-1.1,-0.9,-0.8,-0.7,-0.6,-0.4,-0.3,-0.2,-0.1,0.1,0.2,0.3,0.4,0.6,0.7,0.8,0.9,1.1,1.2,1.3,1.4,1.6,1.7,1.8,1.9,2.1],"labels":false,"tickSize":-4.5,"title":null}},"y":{"field":"y","type":"quantitative","scale":{"domain":[0,11],"nice":false,"zero":false},"axis":null}}},
{"data":{"values":[{"t":"(6,6) armchair tube","x":1.385,"y":9}]},"mark":{"type":"text","fontSize":17.5,"font":"Liberation Sans","color":"#000"},"encoding":{"x":{"field":"x","type":"quantitative","scale":{"domain":[-2.1,2.1],"nice":false,"zero":false},"axis":null},"y":{"field":"y","type":"quantitative","scale":{"domain":[0,11],"nice":false,"zero":false},"axis":null},"text":{"field":"t"}}}
]},
{"width":494.4,"height":248.5,"data":{"name":"pts"},"resolve":{"axis":{"x":"independent","y":"independent"}},"layer":[
{"mark":{"type":"point","filled":true,"opacity":1,"strokeWidth":0},"encoding":{"x":{"field":"x","type":"quantitative","scale":{"domain":[-2.1,2.1],"nice":false,"zero":false},"axis":{"orient":"bottom","values":[-2,-1.5,-1,-0.5,0,0.5,1,1.5,2],"labelExpr":"replace(format(datum.value,'.1f'),'\u2212','-')","tickSize":-8,"labelPadding":16.5,"title":"Pristine eigenfrequency E (THz)","titleFontSize":19,"titlePadding":13}},"y":{"field":"a","type":"quantitative","scale":{"domain":[-8,8],"nice":false,"zero":false},"axis":{"orient":"left","values":[-8,-6,-4,-2,0,2,4,6,8],"labelExpr":"replace(format(datum.value,'d'),'\u2212','-')","tickSize":-8,"labelPadding":17,"labelFontSize":17.5,"title":"O\u2082-induced shift \u0394E (GHz)","titleFontSize":19,"titlePadding":21.5,"titleY":135}},"color":{"datum":"Ny=24","type":"nominal","scale":{"domain":["Ny=24","Ny=25","Ny=26"],"range":["#ED1C24","#00A651","#2E3192"]},"legend":{"orient":"none","legendX":499.8,"legendY":154,"title":null,"labelFontSize":18,"labelOffset":19.9,"rowPadding":5.6,"symbolStrokeWidth":0,"labelFont":"Liberation Sans","labelColor":"#000"}},"shape":{"datum":"Ny=24","type":"nominal","scale":{"domain":["Ny=24","Ny=25","Ny=26"],"range":["circle","square","triangle-up"]}},"size":{"datum":"Ny=24","type":"nominal","scale":{"type":"ordinal","domain":["Ny=24","Ny=25","Ny=26"],"range":[120,52,55]}}}},
{"mark":{"type":"point","filled":true,"opacity":1,"strokeWidth":0},"encoding":{"x":{"field":"x","type":"quantitative","scale":{"domain":[-2.1,2.1],"nice":false,"zero":false},"axis":{"orient":"bottom","domain":false,"values":[-2.1,-1.9,-1.8,-1.7,-1.6,-1.4,-1.3,-1.2,-1.1,-0.9,-0.8,-0.7,-0.6,-0.4,-0.3,-0.2,-0.1,0.1,0.2,0.3,0.4,0.6,0.7,0.8,0.9,1.1,1.2,1.3,1.4,1.6,1.7,1.8,1.9,2.1],"labels":false,"tickSize":-4.5,"title":null}},"y":{"field":"b","type":"quantitative","scale":{"domain":[-8,8],"nice":false,"zero":false},"axis":{"orient":"left","domain":false,"values":[-7.5,-7,-6.5,-5.5,-5,-4.5,-3.5,-3,-2.5,-1.5,-1,-0.5,0.5,1,1.5,2.5,3,3.5,4.5,5,5.5,6.5,7,7.5],"labels":false,"tickSize":-4.5,"title":null}},"color":{"datum":"Ny=25","type":"nominal"},"shape":{"datum":"Ny=25","type":"nominal"},"size":{"datum":"Ny=25","type":"nominal","scale":{"type":"ordinal","domain":["Ny=24","Ny=25","Ny=26"],"range":[120,52,55]}}}},
{"mark":{"type":"point","filled":true,"opacity":1,"strokeWidth":0},"encoding":{"x":{"field":"x","type":"quantitative","scale":{"domain":[-2.1,2.1],"nice":false,"zero":false},"axis":{"orient":"top","values":[-2,-1.5,-1,-0.5,0,0.5,1,1.5,2],"labels":false,"tickSize":-8,"title":null}},"y":{"field":"c","type":"quantitative","scale":{"domain":[-8,8],"nice":false,"zero":false},"axis":{"orient":"right","values":[-8,-6,-4,-2,0,2,4,6,8],"labels":false,"tickSize":-8,"title":null}},"color":{"datum":"Ny=26","type":"nominal"},"shape":{"datum":"Ny=26","type":"nominal"},"size":{"datum":"Ny=26","type":"nominal","scale":{"type":"ordinal","domain":["Ny=24","Ny=25","Ny=26"],"range":[120,52,55]}}}},
{"mark":{"type":"point","filled":true,"opacity":1,"strokeWidth":0},"encoding":{"x":{"field":"x","type":"quantitative","scale":{"domain":[-2.1,2.1],"nice":false,"zero":false},"axis":{"orient":"top","domain":false,"values":[-2.1,-1.9,-1.8,-1.7,-1.6,-1.4,-1.3,-1.2,-1.1,-0.9,-0.8,-0.7,-0.6,-0.4,-0.3,-0.2,-0.1,0.1,0.2,0.3,0.4,0.6,0.7,0.8,0.9,1.1,1.2,1.3,1.4,1.6,1.7,1.8,1.9,2.1],"labels":false,"tickSize":-4.5,"title":null}},"y":{"field":"d","type":"quantitative","scale":{"domain":[-8,8],"nice":false,"zero":false},"axis":{"orient":"right","domain":false,"values":[-7.5,-7,-6.5,-5.5,-5,-4.5,-3.5,-3,-2.5,-1.5,-1,-0.5,0.5,1,1.5,2.5,3,3.5,4.5,5,5.5,6.5,7,7.5],"labels":false,"tickSize":-4.5,"title":null}},"color":{"datum":"Ny=24","type":"nominal"},"shape":{"datum":"Ny=24","type":"nominal"},"size":{"datum":"Ny=24","type":"nominal","scale":{"type":"ordinal","domain":["Ny=24","Ny=25","Ny=26"],"range":[120,52,55]}}}},
{"data":{"values":[{"t":"x10\u00b3","x":2.147,"y":-8}]},"mark":{"type":"text","align":"left","baseline":"middle","fontSize":17,"font":"Liberation Sans","color":"#000"},"encoding":{"x":{"field":"x","type":"quantitative","scale":{"domain":[-2.1,2.1],"nice":false,"zero":false},"axis":null},"y":{"field":"y","type":"quantitative","scale":{"domain":[-8,8],"nice":false,"zero":false},"axis":null},"text":{"field":"t"}}}
]}
]}
